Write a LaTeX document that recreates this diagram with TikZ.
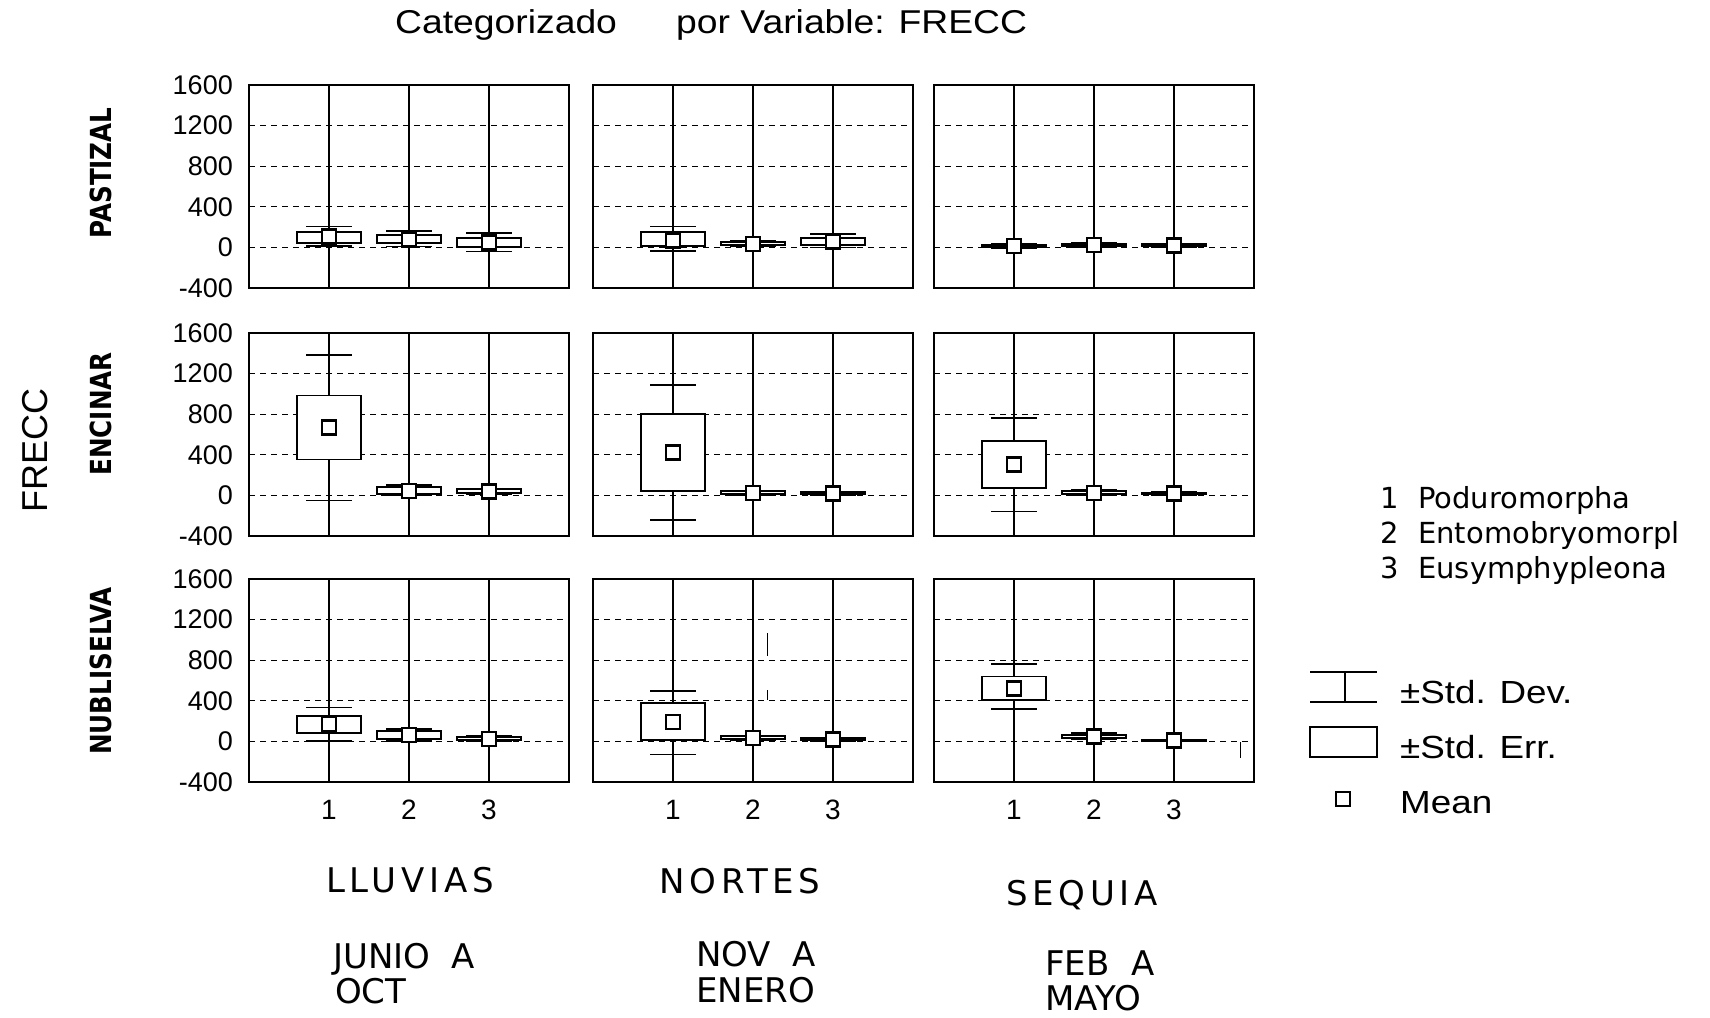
\documentclass[tikz,border=0pt]{standalone}
\usepackage{fontspec}
\setmainfont{Liberation Sans}
\newfontfamily\labelfont{DejaVu Sans}
\newfontfamily\spacedfont[LetterSpace=14]{DejaVu Sans}
\newcommand{\wide}[2][1.15]{\scalebox{#1}[1]{#2}}

\begin{document}
\begin{tikzpicture}[x=1pt, y=-1pt,
    frame/.style={line width=2pt},
    vgrid/.style={line width=1.2pt},
    hgrid/.style={line width=1pt, dash pattern=on 6pt off 5pt},
    whisk/.style={line width=1.6pt},
    sebox/.style={line width=1.8pt, fill=white},
    meanbox/.style={line width=2.6pt, fill=white},
    tick/.style={font=\fontsize{27}{27}\selectfont, anchor=east, inner sep=0pt},
    catnum/.style={font=\fontsize{28}{28}\selectfont, inner sep=0pt},
    rowlab/.style={font=\labelfont\bfseries\fontsize{29}{29}\selectfont, rotate=90, inner sep=0pt},
    collab/.style={font=\spacedfont\fontsize{34}{34}\selectfont, anchor=base, inner sep=0pt},
    monthlab/.style={font=\labelfont\fontsize{34}{34}\selectfont, anchor=base west, inner sep=0pt},
    legtxt/.style={font=\fontsize{32}{32}\selectfont, anchor=base west, inner sep=0pt},
    spectxt/.style={font=\labelfont\fontsize{29}{29}\selectfont, anchor=base west, inner sep=0pt}
]
    \fill[white] (0,0) rectangle (1710,1017);
    \useasboundingbox (0,0) rectangle (1710,1017);

    % Title
    \node[font=\fontsize{33}{33}\selectfont, anchor=base west, inner sep=0pt] (titleA) at (395,33) {\wide[1.13]{Categorizado}};
    \node[font=\fontsize{33}{33}\selectfont, anchor=base west, inner sep=0pt] (titleB) at (676,33) {\wide[1.13]{por Variable: FRECC}};

    % Grid
    \foreach \c/\px in {1/249, 2/593, 3/934} {
        \foreach \r/\py in {1/85, 2/333, 3/579} {
            \foreach \k in {1,2,3}
                \draw[vgrid] ({\px+80*\k}, \py) -- ({\px+80*\k}, {\py+203});
            \foreach \v in {1200,800,400,0}
                \draw[hgrid] (\px, {\py+(1600-\v)*0.1015}) -- ({\px+320}, {\py+(1600-\v)*0.1015});
        }
    }

    % Boxes: col/row/cat/mean/se low/se high/sd low/sd high
    \foreach \c/\r/\k/\m/\sl/\sh/\dl/\dh in {
        1/1/1/110/45/150/15/205, 1/1/2/80/40/120/10/160, 1/1/3/50/5/95/-40/140,
        2/1/1/70/15/150/-35/205, 2/1/2/35/20/55/10/65, 2/1/3/60/25/90/0/130,
        3/1/1/15/5/25/-5/35, 3/1/2/25/15/35/5/45, 3/1/3/20/10/30/0/40,
        1/2/1/668/354/984/-50/1386, 1/2/2/45/15/80/5/100, 1/2/3/40/25/60/15/70,
        2/2/1/420/45/800/-245/1085, 2/2/2/25/15/40/5/50, 2/2/3/20/10/30/0/40,
        3/2/1/305/75/535/-160/765, 3/2/2/25/10/45/0/55, 3/2/3/20/15/25/5/35,
        1/3/1/170/85/250/5/335, 1/3/2/65/25/100/5/120, 1/3/3/25/10/45/0/55,
        2/3/1/190/10/375/-130/495, 2/3/2/35/20/55/10/60, 2/3/3/20/10/30/5/35,
        3/3/1/520/405/640/320/760, 3/3/2/50/35/65/20/80, 3/3/3/10/5/15/0/20} {
        \pgfmathsetmacro\xc{{249,593,934}[\c-1]+80*\k}
        \pgfmathsetmacro\yt{{85,333,579}[\r-1]}
        \pgfmathsetmacro\ym{\yt+(1600-\m)*0.1015}
        \pgfmathsetmacro\ysl{\yt+(1600-\sl)*0.1015}
        \pgfmathsetmacro\ysh{\yt+(1600-\sh)*0.1015}
        \pgfmathsetmacro\ydl{\yt+(1600-\dl)*0.1015}
        \pgfmathsetmacro\ydh{\yt+(1600-\dh)*0.1015}
        \draw[whisk] (\xc, \ydh) -- (\xc, \ydl);
        \draw[whisk] ({\xc-23}, \ydh) -- ({\xc+23}, \ydh);
        \draw[whisk] ({\xc-23}, \ydl) -- ({\xc+23}, \ydl);
        \draw[sebox] ({\xc-32}, \ysh) rectangle ({\xc+32}, \ysl);
        \draw[meanbox] ({\xc-7}, {\ym-7}) rectangle ({\xc+7}, {\ym+7});
    }

    % Stray marks
    \draw[line width=1pt] (767,633) -- (767,656);
    \draw[line width=1pt] (767,690) -- (767,700);
    \draw[line width=1pt] (1240,742) -- (1240,758);

    % Frames
    \foreach \px in {249, 593, 934}
        \foreach \py in {85, 333, 579}
            \draw[frame] (\px, \py) rectangle ({\px+320}, {\py+203});

    % Axis labels
    \foreach \r/\py in {1/85, 2/333, 3/579}
        \foreach \v in {1600,1200,800,400,0,-400}
            \node[tick] (t\r\v) at (233, {\py+(1600-\v)*0.1015}) {\v};
    \foreach \c/\px in {1/249, 2/593, 3/934}
        \foreach \k in {1,2,3}
            \node[catnum] (n\c\k) at ({\px+80*\k}, 810) {\k};

    \node[rotate=90, inner sep=0pt, font=\fontsize{36}{36}\selectfont] (frecc) at (35,450) {FRECC};
    \node[rowlab] (pastizal) at (101,173) {\scalebox{0.85}[1]{PASTIZAL}};
    \node[rowlab] (encinar) at (101,414) {\scalebox{0.85}[1]{ENCINAR}};
    \node[rowlab] (nubliselva) at (101,671) {\scalebox{0.85}[1]{NUBLISELVA}};

    % Seasons
    \node[collab] (lluvias) at (410,892) {LLUVIAS};
    \node[collab] (nortes) at (740,893) {NORTES};
    \node[collab] (sequia) at (1082,905) {SEQUIA};
    \node[monthlab] (junio) at (333,968) {JUNIO\ \ A};
    \node[monthlab] (oct) at (335,1003) {OCT};
    \node[monthlab] (nov) at (696,966) {NOV\ \ A};
    \node[monthlab] (enero) at (696,1002) {ENERO};
    \node[monthlab] (feb) at (1045,975) {FEB\ \ A};
    \node[monthlab] (mayo) at (1045,1010) {MAYO};

    % Legend
    \node[spectxt] (num1) at (1380,508) {1};
    \node[spectxt] (sp1) at (1418,508) {Poduromorpha};
    \node[spectxt] (num2) at (1380,543) {2};
    \node[spectxt] (sp2) at (1418,543) {Entomobryomorpl};
    \node[spectxt] (num3) at (1380,578) {3};
    \node[spectxt] (sp3) at (1418,578) {Eusymphypleona};

    \draw[whisk] (1310,672) -- (1377,672);
    \draw[whisk] (1310,702) -- (1377,702);
    \draw[whisk] (1345,672) -- (1345,702);
    \draw[sebox] (1310,727) rectangle (1377,757);
    \draw[meanbox, line width=2.2pt] (1336,792) rectangle (1350,806);
    \node[legtxt] (sdlab) at (1400,703) {\wide{±Std. Dev.}};
    \node[legtxt] (selab) at (1400,758) {\wide{±Std. Err.}};
    \node[legtxt] (meanlab) at (1400,813) {\wide{Mean}};
\end{tikzpicture}
\end{document}
